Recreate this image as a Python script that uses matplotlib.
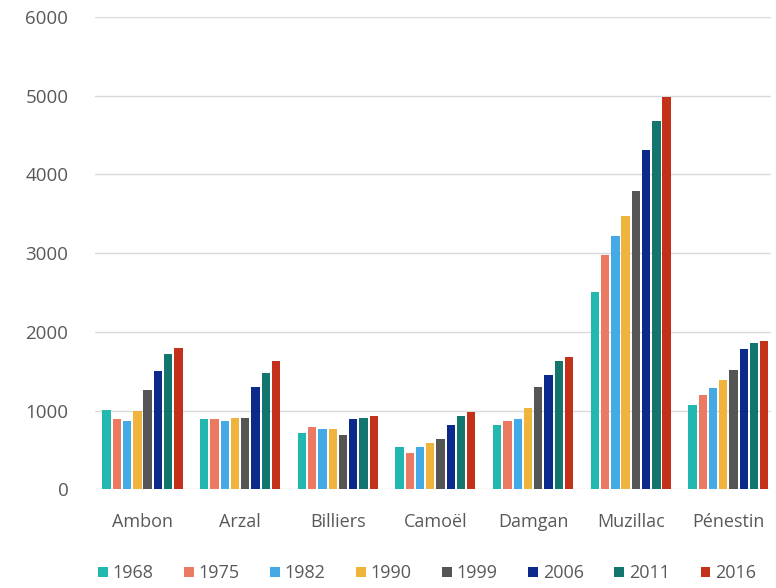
import numpy as np
import matplotlib.pyplot as plt

plt.rcParams['font.family'] = ['Open Sans', 'DejaVu Sans']

communes = ['Ambon', 'Arzal', 'Billiers', 'Camoël', 'Damgan', 'Muzillac', 'Pénestin']
years = ['1968', '1975', '1982', '1990', '1999', '2006', '2011', '2016']

# population per year, one list per commune order above
pop_1968 = [1008, 891, 714, 542, 811, 2500, 1068]
pop_1975 = [891, 891, 790, 466, 861, 2979, 1195]
pop_1982 = [861, 861, 765, 542, 887, 3220, 1292]
pop_1990 = [1000, 908, 765, 588, 1029, 3475, 1390]
pop_1999 = [1256, 908, 689, 643, 1303, 3792, 1517]
pop_2006 = [1500, 1303, 887, 815, 1450, 4309, 1788]
pop_2011 = [1723, 1475, 908, 933, 1626, 4682, 1856]
pop_2016 = [1798, 1626, 933, 987, 1676, 4987, 1886]

series = [pop_1968, pop_1975, pop_1982, pop_1990, pop_1999, pop_2006, pop_2011, pop_2016]
colors = ['#22b8b0', '#ec7a62', '#43aae6', '#f0b43c', '#555555', '#0b2a8c', '#12766f', '#c4311a']

fig = plt.figure(figsize=(7.76, 5.88), dpi=100)
ax = fig.add_axes([0.122, 0.168, 0.872, 0.803])

x = np.arange(len(communes))
pitch = 0.105
w = 0.085
for i in range(len(years)):
    off = (i - 3.5) * pitch
    ax.bar(x + off, series[i], w, color=colors[i], label=years[i], zorder=3)

ax.set_ylim(0, 6000)
ax.set_xlim(-0.49, 6.44)
ax.set_yticks(np.arange(0, 6001, 1000))
ax.set_xticks(x)
ax.set_xticklabels(communes)
ax.grid(axis='y', color='#d9d9d9', lw=1, zorder=0)
for s in ax.spines.values():
    s.set_visible(False)
ax.tick_params(length=0, colors='#595959')
ax.tick_params(axis='y', pad=19, labelsize=13.5)
ax.tick_params(axis='x', pad=17, labelsize=13)

fig.legend(loc='lower center', bbox_to_anchor=(0.55, -0.018), ncol=8, frameon=False,
           fontsize=13, handlelength=0.55, handleheight=0.55, handletextpad=0.25,
           columnspacing=1.7, labelcolor='#595959')

fig.savefig('out.png', dpi=100)
